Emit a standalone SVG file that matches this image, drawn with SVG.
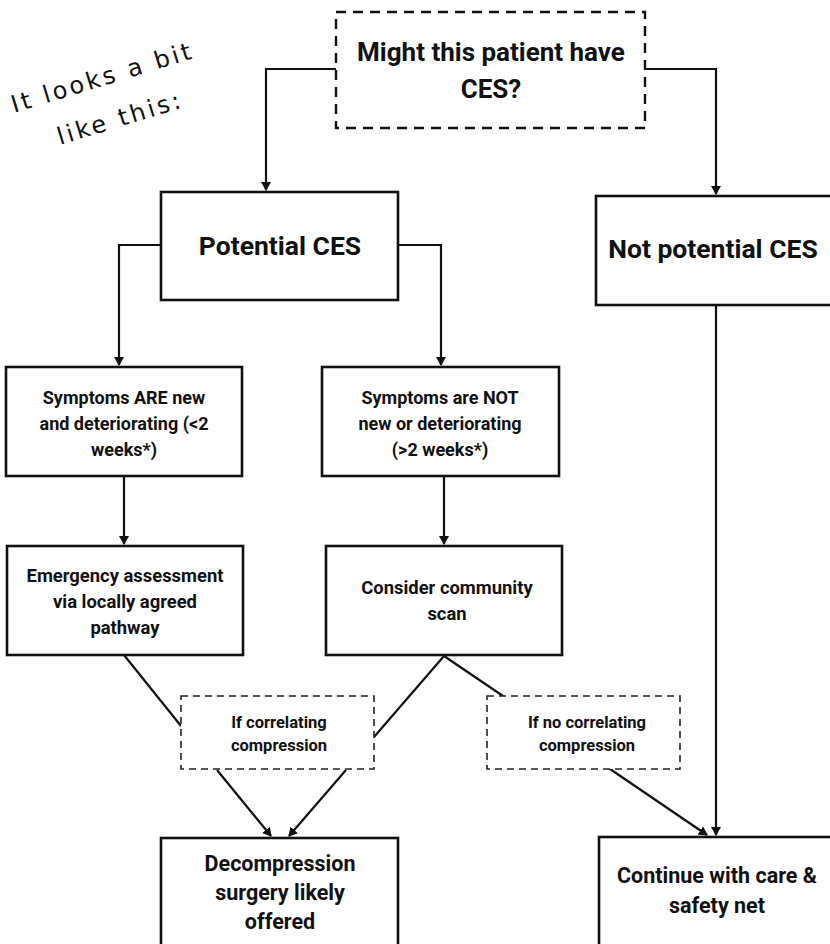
<svg xmlns="http://www.w3.org/2000/svg" width="830" height="944" viewBox="0 0 830 944">
<style>
.box{fill:#fff;stroke:#111;stroke-width:2.6}
.dash{fill:#fff;stroke:#111;stroke-width:2.4;stroke-dasharray:10 7}
.dash2{fill:#fff;stroke:#222;stroke-width:1.6;stroke-dasharray:7 5}
.ln{fill:none;stroke:#111;stroke-width:2.2}
text{font-family:Roboto,"Liberation Sans",sans-serif;font-weight:bold;fill:#111;text-anchor:middle}
.hand{font-family:"DejaVu Sans",sans-serif;font-weight:normal;text-anchor:start;font-size:24px;letter-spacing:3px}
</style>
<defs>
<marker id="ah" markerWidth="10" markerHeight="10" refX="8" refY="5" orient="auto" markerUnits="userSpaceOnUse">
<path d="M0,0 L9,5 L0,10 z" fill="#111"/>
</marker>
</defs>
<rect width="830" height="944" fill="#fff"/>
<g id="note">
<text class="hand" transform="translate(14,113) rotate(-17)">It looks a bit</text>
<text class="hand" transform="translate(60,145) rotate(-17)">like this:</text>
</g>
<g id="connectors">
<polyline class="ln" points="336,69 266,69 266,190" marker-end="url(#ah)"/>
<polyline class="ln" points="645,69 716,69 716,194" marker-end="url(#ah)"/>
<polyline class="ln" points="161,245 119,245 119,365" marker-end="url(#ah)"/>
<polyline class="ln" points="398,245 441,245 441,365" marker-end="url(#ah)"/>
<line class="ln" x1="124" y1="476" x2="124" y2="544" marker-end="url(#ah)"/>
<line class="ln" x1="444" y1="476" x2="444" y2="544" marker-end="url(#ah)"/>
<line class="ln" x1="124" y1="655" x2="181" y2="726"/>
<line class="ln" x1="444" y1="656" x2="374" y2="737"/>
<line class="ln" x1="444" y1="656" x2="503" y2="696"/>
<line class="ln" x1="217" y1="770" x2="271" y2="836" marker-end="url(#ah)"/>
<line class="ln" x1="346" y1="770" x2="289" y2="836" marker-end="url(#ah)"/>
<line class="ln" x1="610" y1="769" x2="707" y2="835" marker-end="url(#ah)"/>
<line class="ln" x1="716" y1="305" x2="716" y2="835" marker-end="url(#ah)"/>
</g>
<g id="start">
<rect class="dash" x="336" y="12" width="309" height="116"/>
<text x="491" y="61" font-size="26">Might this patient have</text>
<text x="491" y="98" font-size="26">CES?</text>
</g>
<g id="potential">
<rect class="box" x="161" y="192" width="237" height="108"/>
<text x="280" y="255" font-size="26.5">Potential CES</text>
</g>
<g id="notpotential">
<rect class="box" x="596" y="196" width="245" height="109"/>
<text x="713" y="258" font-size="26.5">Not potential CES</text>
</g>
<g id="new">
<rect class="box" x="6" y="367" width="236" height="109"/>
<text x="124" y="404" font-size="18">Symptoms ARE new</text>
<text x="124" y="430" font-size="18">and deteriorating (&lt;2</text>
<text x="124" y="456" font-size="18">weeks*)</text>
</g>
<g id="notnew">
<rect class="box" x="322" y="367" width="237" height="109"/>
<text x="440" y="404" font-size="18">Symptoms are NOT</text>
<text x="440" y="430" font-size="18">new or deteriorating</text>
<text x="440" y="456" font-size="18">(&gt;2 weeks*)</text>
</g>
<g id="emergency">
<rect class="box" x="7" y="546" width="236" height="109"/>
<text x="125" y="582" font-size="18.4">Emergency assessment</text>
<text x="125" y="608" font-size="18.4">via locally agreed</text>
<text x="125" y="634" font-size="18.4">pathway</text>
</g>
<g id="scan">
<rect class="box" x="326" y="546" width="236" height="109"/>
<text x="447" y="594" font-size="18.4">Consider community</text>
<text x="447" y="620" font-size="18.4">scan</text>
</g>
<g id="correlating">
<rect class="dash2" x="181" y="696" width="193" height="73"/>
<text x="279" y="728" font-size="16.5">If correlating</text>
<text x="279" y="751" font-size="16.5">compression</text>
</g>
<g id="nocorrelating">
<rect class="dash2" x="487" y="696" width="193" height="73"/>
<text x="587" y="728" font-size="16.5">If no correlating</text>
<text x="587" y="751" font-size="16.5">compression</text>
</g>
<g id="surgery">
<rect class="box" x="161" y="838" width="237" height="110"/>
<text x="280" y="871" font-size="21.5">Decompression</text>
<text x="280" y="900" font-size="21.5">surgery likely</text>
<text x="280" y="929" font-size="21.5">offered</text>
</g>
<g id="continue">
<rect class="box" x="599" y="837" width="245" height="111"/>
<text x="717" y="883" font-size="21.5">Continue with care &amp;</text>
<text x="717" y="913" font-size="21.5">safety net</text>
</g>
</svg>
